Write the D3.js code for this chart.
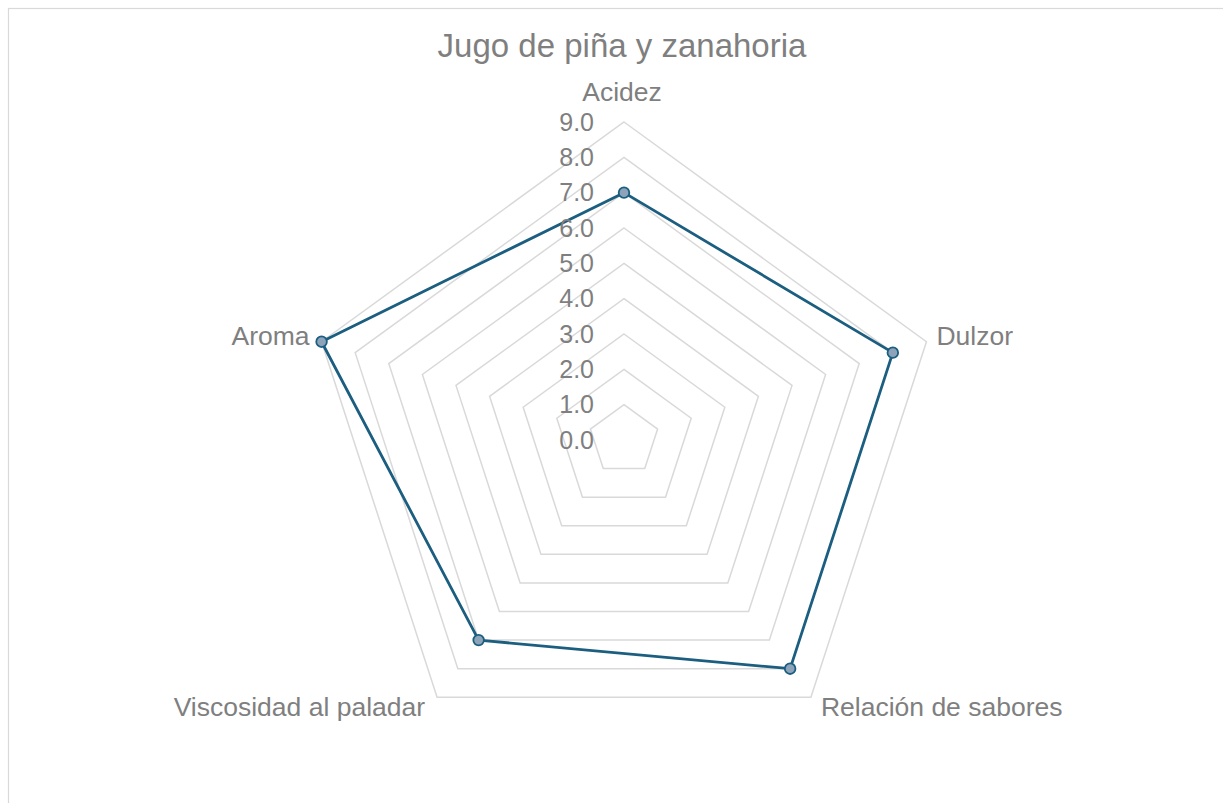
<!DOCTYPE html>
<html>
<head>
<meta charset="utf-8">
<script src="https://cdn.jsdelivr.net/npm/d3@7"></script>
<style>
  html, body { margin: 0; padding: 0; background: #fff; }
  svg { display: block; font-family: "Liberation Sans", Arial, sans-serif; }
</style>
</head>
<body>
<svg id="chart" width="1223" height="803"></svg>
<script>
const title = "Jugo de piña y zanahoria";
const categories = ["Acidez", "Dulzor", "Relación de sabores", "Viscosidad al paladar", "Aroma"];
const values = [7.0, 8.0, 8.0, 7.0, 9.0];
const tickValues = [0, 1, 2, 3, 4, 5, 6, 7, 8, 9];

const svg = d3.select("#chart");
const cx = 624, cy = 440;
const r = d3.scaleLinear().domain([0, 9]).range([0, 318]);
const angle = d3.scalePoint().domain(categories).range([0, 2 * Math.PI * (categories.length - 1) / categories.length]);

const pt = (cat, v) => {
  const a = angle(cat);
  return [cx + r(v) * Math.sin(a), cy - r(v) * Math.cos(a)];
};

// chart border
svg.append("rect")
  .attr("x", 8.5).attr("y", 8.5)
  .attr("width", 1300).attr("height", 900)
  .attr("fill", "#fff").attr("stroke", "#d9d9d9").attr("stroke-width", 1.2);

// title
svg.append("text")
  .attr("x", 622).attr("y", 57)
  .attr("text-anchor", "middle")
  .attr("font-size", 33)
  .attr("fill", "#7f7f7f")
  .text(title);

// grid rings
const ringLine = d3.line().curve(d3.curveLinearClosed);
svg.append("g").selectAll("path")
  .data(tickValues.filter(t => t > 0))
  .join("path")
  .attr("d", t => ringLine(categories.map(c => pt(c, t))))
  .attr("fill", "none")
  .attr("stroke", "#d9d9d9")
  .attr("stroke-width", 1.5);

// series
svg.append("path")
  .attr("d", ringLine(categories.map((c, i) => pt(c, values[i]))))
  .attr("fill", "none")
  .attr("stroke", "#1b5e80")
  .attr("stroke-width", 2.8)
  .attr("stroke-linejoin", "round");

svg.append("g").selectAll("circle")
  .data(categories.map((c, i) => pt(c, values[i])))
  .join("circle")
  .attr("cx", d => d[0]).attr("cy", d => d[1])
  .attr("r", 5.3)
  .attr("fill", "#8ca3b9")
  .attr("stroke", "#1b5e80")
  .attr("stroke-width", 1.8);

// tick labels
svg.append("g").selectAll("text")
  .data(tickValues)
  .join("text")
  .attr("x", cx - 30)
  .attr("y", t => cy - r(t))
  .attr("dy", "0.35em")
  .attr("text-anchor", "end")
  .attr("font-size", 25)
  .attr("fill", "#7f7f7f")
  .text(t => d3.format(".1f")(t));

// axis category labels
svg.append("g").selectAll("text")
  .data(categories)
  .join("text")
  .each(function(c) {
    const [vx, vy] = pt(c, 9);
    const s = Math.sin(angle(c)), co = Math.cos(angle(c));
    const t = d3.select(this);
    if (Math.abs(s) < 0.1) {
      t.attr("x", vx - 2).attr("y", vy - 21).attr("text-anchor", "middle");
    } else {
      t.attr("x", s > 0 ? vx + 10 : vx - 12)
       .attr("text-anchor", s > 0 ? "start" : "end")
       .attr("y", (co > 0 ? vy - 6 : vy + 9))
       .attr("dy", "0.35em");
    }
  })
  .attr("font-size", 26.5)
  .attr("fill", "#7f7f7f")
  .text(c => c);
</script>
</body>
</html>
